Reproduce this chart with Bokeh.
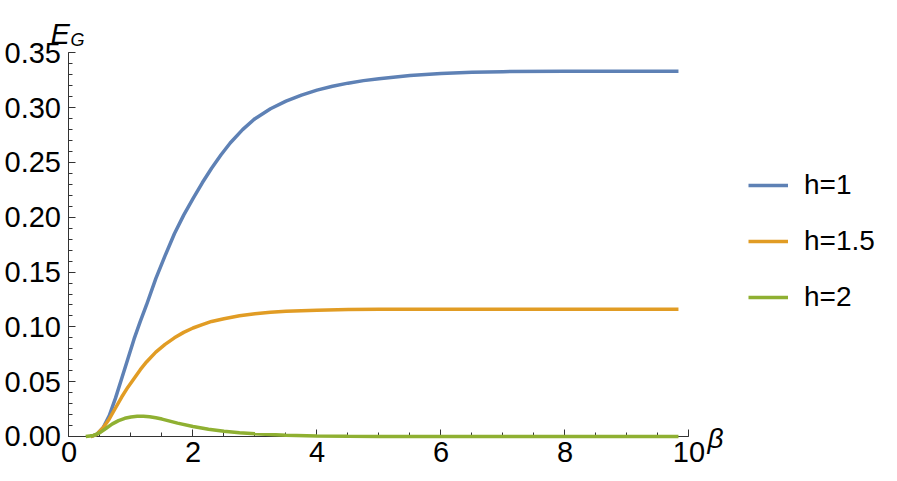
from bokeh.plotting import figure
from bokeh.models import (Range1d, FixedTicker, Legend, LegendItem, Label,
                          NumeralTickFormatter)
from bokeh.embed import file_html
from bokeh.resources import INLINE

# ---- data ----
beta_h1 = [0.35, 0.45, 0.55, 0.65, 0.75, 0.85, 0.95, 1.05, 1.15, 1.25, 1.4, 1.55,
           1.7, 1.85, 2.0, 2.15, 2.3, 2.45, 2.6, 2.8, 3.0, 3.25, 3.5, 3.75, 4.0,
           4.25, 4.5, 4.75, 5.0, 5.5, 6.0, 6.5, 7.0, 8.0, 9.83]
eg_h1 = [0.0, 0.002, 0.008, 0.019, 0.035, 0.053, 0.071, 0.089, 0.105, 0.120, 0.144,
         0.165, 0.185, 0.202, 0.217, 0.2315, 0.2448, 0.2568, 0.2678, 0.2800,
         0.2900, 0.2990, 0.3060, 0.3115, 0.3160, 0.3196, 0.3224, 0.3247, 0.3265,
         0.3293, 0.3312, 0.3323, 0.3329, 0.3333, 0.3333]

beta_h15 = [0.35, 0.45, 0.55, 0.65, 0.75, 0.85, 0.95, 1.05, 1.15, 1.25, 1.4, 1.55,
            1.7, 1.85, 2.0, 2.15, 2.3, 2.5, 2.75, 3.0, 3.25, 3.5, 4.0, 4.5, 5.0,
            6.0, 8.0, 9.83]
eg_h15 = [0.0, 0.002, 0.008, 0.016, 0.026, 0.036, 0.045, 0.053, 0.061, 0.068,
          0.077, 0.084, 0.090, 0.095, 0.099, 0.102, 0.105, 0.1075, 0.1102, 0.1120,
          0.1133, 0.1143, 0.1153, 0.1158, 0.1160, 0.1160, 0.1160, 0.1160]

beta_h2 = [0.27, 0.4, 0.5, 0.6, 0.7, 0.8, 0.9, 1.0, 1.1, 1.2, 1.3, 1.4, 1.5, 1.75,
           2.0, 2.25, 2.5, 2.75, 3.0, 3.5, 4.0, 4.5, 5.0, 9.83]
eg_h2 = [0.0, 0.001, 0.0035, 0.0075, 0.0115, 0.0145, 0.0166, 0.0178, 0.0184,
         0.0185, 0.0180, 0.0171, 0.0159, 0.0122, 0.0091, 0.0066, 0.0048, 0.0034,
         0.0024, 0.0012, 0.0005, 0.0002, 0.0, 0.0]

labels = ["h=1", "h=1.5", "h=2"]
colors = ["#5E81B5", "#E19C24", "#8FB032"]

x_major = [0, 2, 4, 6, 8, 10]
x_minor = [i * 0.5 for i in range(0, 21)]
y_major = [0.0, 0.05, 0.10, 0.15, 0.20, 0.25, 0.30, 0.35]
y_minor = [i * 0.01 for i in range(0, 36)]

FONT = "Liberation Sans"

# the frame spans the whole canvas; axes are pinned at x=0 / y=0
p = figure(width=897, height=481, output_backend="svg", toolbar_location=None,
           x_range=Range1d(-1.1048, 13.363), y_range=Range1d(-0.04106, 0.39781),
           min_border=0)
p.outline_line_color = None
p.grid.visible = False
p.background_fill_color = "white"
p.border_fill_color = "white"

series = [(beta_h1, eg_h1), (beta_h15, eg_h15), (beta_h2, eg_h2)]
renderers = []
for (xs, ys), c in zip(series, colors):
    r = p.line(xs, ys, line_color=c, line_width=3.5, level="annotation")
    renderers.append(r)

for ax in (p.xaxis[0], p.yaxis[0]):
    ax.fixed_location = 0
    ax.axis_line_color = "#333333"
    ax.major_tick_line_color = "#333333"
    ax.minor_tick_line_color = "#333333"
    ax.major_tick_in = 7
    ax.major_tick_out = 0
    ax.minor_tick_in = 4
    ax.minor_tick_out = 0
    ax.major_label_text_font = FONT
    ax.major_label_text_font_size = "29px"
    ax.major_label_text_color = "black"

p.xaxis.bounds = (0, 10)
p.yaxis.bounds = (0, 0.35)
p.xaxis.ticker = FixedTicker(ticks=x_major, minor_ticks=x_minor)
p.yaxis.ticker = FixedTicker(ticks=y_major, minor_ticks=y_minor)
p.xaxis.formatter = NumeralTickFormatter(format="0")
p.yaxis.formatter = NumeralTickFormatter(format="0.00")
p.xaxis.major_label_standoff = 6
p.yaxis.major_label_standoff = 8

# axis labels (screen units, origin at the bottom-left of the canvas)
p.add_layout(Label(x=50, y=448, x_units="screen", y_units="screen", text="E",
                   text_font=FONT, text_font_style="italic", text_color="black",
                   text_font_size="29px", text_baseline="alphabetic"))
p.add_layout(Label(x=70, y=442, x_units="screen", y_units="screen", text="G",
                   text_font=FONT, text_font_style="italic", text_color="black",
                   text_font_size="18px", text_baseline="alphabetic"))
p.add_layout(Label(x=707, y=43, x_units="screen", y_units="screen", text="β",
                   text_font=FONT, text_font_style="italic", text_color="black",
                   text_font_size="28px", text_baseline="alphabetic"))

legend = Legend(items=[LegendItem(label=l, renderers=[r]) for l, r in zip(labels, renderers)],
                location=(748, 167), orientation="vertical",
                glyph_width=40, glyph_height=34, label_height=34,
                label_standoff=16, spacing=22, padding=0, margin=0,
                border_line_alpha=0, background_fill_alpha=0,
                label_text_font=FONT, label_text_font_size="28px",
                label_text_color="black", label_text_baseline="middle")
p.add_layout(legend)

open("out.html", "w").write(file_html(p, INLINE))
